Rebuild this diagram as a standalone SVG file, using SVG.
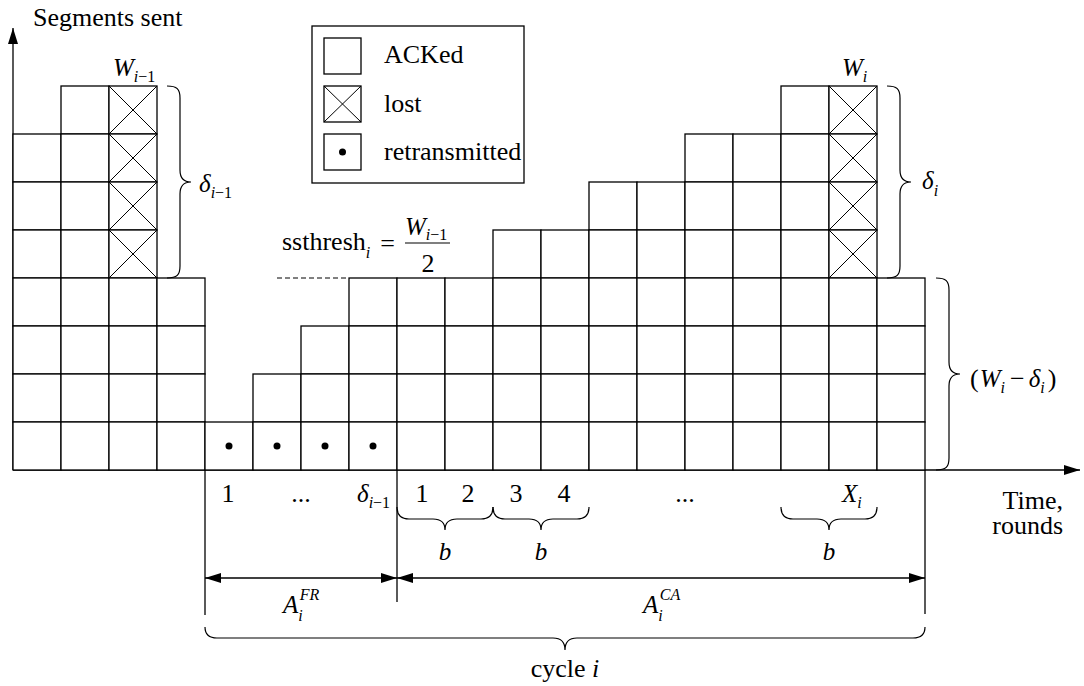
<svg xmlns="http://www.w3.org/2000/svg" width="1084" height="686" viewBox="0 0 1084 686">
<style>
.cell{fill:#fff;stroke:#000;stroke-width:1.3}
.diag{fill:none;stroke:#000;stroke-width:1}
.ln{fill:none;stroke:#000;stroke-width:1.3}
.br{fill:none;stroke:#000;stroke-width:1.2}
</style>
<defs>
<marker id="arr" markerUnits="userSpaceOnUse" markerWidth="16" markerHeight="10" refX="16" refY="5" orient="auto-start-reverse" viewBox="0 0 16 10">
<path d="M0,0L16,5L0,10z" fill="#000"/>
</marker>
<rect id="c" width="48" height="48" class="cell"/>
<g id="x"><rect width="48" height="48" class="cell"/><path d="M0,0L48,48M48,0L0,48" class="diag"/></g>
<g id="d"><rect width="48" height="48" class="cell"/><circle cx="24" cy="24" r="3.5" fill="#000"/></g>
</defs>

<g id="connectors">
<line class="ln" x1="13" y1="470" x2="13" y2="28" marker-end="url(#arr)"/>
<line class="ln" x1="13" y1="470" x2="1080" y2="470" marker-end="url(#arr)"/>
<line class="ln" x1="205" y1="470" x2="205" y2="615"/>
<line class="ln" x1="397" y1="470" x2="397" y2="602"/>
<line class="ln" x1="925" y1="470" x2="925" y2="614"/>
<line class="ln" x1="205" y1="578" x2="397" y2="578" marker-start="url(#arr)" marker-end="url(#arr)"/>
<line class="ln" x1="397" y1="578" x2="925" y2="578" marker-start="url(#arr)" marker-end="url(#arr)"/>
<line x1="277" y1="278" x2="349" y2="278" stroke="#000" stroke-width="1" stroke-dasharray="5,3"/>
</g>

<g id="col0"><use href="#c" x="13" y="134"/><use href="#c" x="13" y="182"/><use href="#c" x="13" y="230"/><use href="#c" x="13" y="278"/><use href="#c" x="13" y="326"/><use href="#c" x="13" y="374"/><use href="#c" x="13" y="422"/></g>
<g id="col1"><use href="#c" x="61" y="86"/><use href="#c" x="61" y="134"/><use href="#c" x="61" y="182"/><use href="#c" x="61" y="230"/><use href="#c" x="61" y="278"/><use href="#c" x="61" y="326"/><use href="#c" x="61" y="374"/><use href="#c" x="61" y="422"/></g>
<g id="col2"><use href="#x" x="109" y="86"/><use href="#x" x="109" y="134"/><use href="#x" x="109" y="182"/><use href="#x" x="109" y="230"/><use href="#c" x="109" y="278"/><use href="#c" x="109" y="326"/><use href="#c" x="109" y="374"/><use href="#c" x="109" y="422"/></g>
<g id="col3"><use href="#c" x="157" y="278"/><use href="#c" x="157" y="326"/><use href="#c" x="157" y="374"/><use href="#c" x="157" y="422"/></g>
<g id="col4"><use href="#d" x="205" y="422"/></g>
<g id="col5"><use href="#c" x="253" y="374"/><use href="#d" x="253" y="422"/></g>
<g id="col6"><use href="#c" x="301" y="326"/><use href="#c" x="301" y="374"/><use href="#d" x="301" y="422"/></g>
<g id="col7"><use href="#c" x="349" y="278"/><use href="#c" x="349" y="326"/><use href="#c" x="349" y="374"/><use href="#d" x="349" y="422"/></g>
<g id="col8"><use href="#c" x="397" y="278"/><use href="#c" x="397" y="326"/><use href="#c" x="397" y="374"/><use href="#c" x="397" y="422"/></g>
<g id="col9"><use href="#c" x="445" y="278"/><use href="#c" x="445" y="326"/><use href="#c" x="445" y="374"/><use href="#c" x="445" y="422"/></g>
<g id="col10"><use href="#c" x="493" y="230"/><use href="#c" x="493" y="278"/><use href="#c" x="493" y="326"/><use href="#c" x="493" y="374"/><use href="#c" x="493" y="422"/></g>
<g id="col11"><use href="#c" x="541" y="230"/><use href="#c" x="541" y="278"/><use href="#c" x="541" y="326"/><use href="#c" x="541" y="374"/><use href="#c" x="541" y="422"/></g>
<g id="col12"><use href="#c" x="589" y="182"/><use href="#c" x="589" y="230"/><use href="#c" x="589" y="278"/><use href="#c" x="589" y="326"/><use href="#c" x="589" y="374"/><use href="#c" x="589" y="422"/></g>
<g id="col13"><use href="#c" x="637" y="182"/><use href="#c" x="637" y="230"/><use href="#c" x="637" y="278"/><use href="#c" x="637" y="326"/><use href="#c" x="637" y="374"/><use href="#c" x="637" y="422"/></g>
<g id="col14"><use href="#c" x="685" y="134"/><use href="#c" x="685" y="182"/><use href="#c" x="685" y="230"/><use href="#c" x="685" y="278"/><use href="#c" x="685" y="326"/><use href="#c" x="685" y="374"/><use href="#c" x="685" y="422"/></g>
<g id="col15"><use href="#c" x="733" y="134"/><use href="#c" x="733" y="182"/><use href="#c" x="733" y="230"/><use href="#c" x="733" y="278"/><use href="#c" x="733" y="326"/><use href="#c" x="733" y="374"/><use href="#c" x="733" y="422"/></g>
<g id="col16"><use href="#c" x="781" y="86"/><use href="#c" x="781" y="134"/><use href="#c" x="781" y="182"/><use href="#c" x="781" y="230"/><use href="#c" x="781" y="278"/><use href="#c" x="781" y="326"/><use href="#c" x="781" y="374"/><use href="#c" x="781" y="422"/></g>
<g id="col17"><use href="#x" x="829" y="86"/><use href="#x" x="829" y="134"/><use href="#x" x="829" y="182"/><use href="#x" x="829" y="230"/><use href="#c" x="829" y="278"/><use href="#c" x="829" y="326"/><use href="#c" x="829" y="374"/><use href="#c" x="829" y="422"/></g>
<g id="col18"><use href="#c" x="877" y="278"/><use href="#c" x="877" y="326"/><use href="#c" x="877" y="374"/><use href="#c" x="877" y="422"/></g>

<g id="legend">
<rect x="312" y="26" width="212" height="157" fill="#fff" stroke="#000" stroke-width="1.3"/>
<rect x="324" y="38" width="37" height="36" class="cell"/>
<rect x="324" y="86" width="37" height="36" class="cell"/>
<path d="M324,86L361,122M361,86L324,122" class="diag"/>
<rect x="324" y="134" width="37" height="36" class="cell"/>
<circle cx="342.5" cy="152" r="3.5" fill="#000"/>
<text font-family="Liberation Serif" font-size="26" x="384" y="63">ACKed</text>
<text font-family="Liberation Serif" font-size="26" x="384" y="112">lost</text>
<text font-family="Liberation Serif" font-size="26" x="384" y="160">retransmitted</text>
</g>

<g id="braces">
<path class="br" d="M167,86 C177,86 180,89 180,98 L180,170 C180,178 184,182 191,182 C184,182 180,186 180,194 L180,266 C180,275 177,278 167,278"/>
<path class="br" d="M887,86 C897,86 900,89 900,98 L900,170 C900,178 904,182 911,182 C904,182 900,186 900,194 L900,266 C900,275 897,278 887,278"/>
<path class="br" d="M936,278 C946,278 949,281 949,290 L949,362 C949,370 953,374 960,374 C953,374 949,378 949,386 L949,458 C949,467 946,470 936,470"/>
<path class="br" d="M397,507 C397,515 401,519 409,519 L433,519 C441,519 445,523 445,530 C445,523 449,519 457,519 L481,519 C489,519 493,515 493,507"/>
<path class="br" d="M493,507 C493,515 497,519 505,519 L529,519 C537,519 541,523 541,530 C541,523 545,519 553,519 L577,519 C585,519 589,515 589,507"/>
<path class="br" d="M781,507 C781,515 785,519 793,519 L817,519 C825,519 829,523 829,530 C829,523 833,519 841,519 L865,519 C873,519 877,515 877,507"/>
<path class="br" d="M205,627 C205,634 209,638 217,638 L553,638 C561,638 565,642 565,650 C565,642 569,638 577,638 L913,638 C921,638 925,634 925,627"/>
</g>

<g id="labels">
<text font-family="Liberation Serif" font-size="26" x="33" y="26">Segments sent</text>
<text font-family="Liberation Serif" font-size="25" font-style="italic" x="113" y="76">W<tspan font-size="16" dy="6">i</tspan><tspan font-size="16" font-style="normal">−1</tspan></text>
<text font-family="Liberation Serif" font-size="25" font-style="italic" x="199" y="192">δ<tspan font-size="16" dy="6">i</tspan><tspan font-size="16" font-style="normal">−1</tspan></text>
<text font-family="Liberation Serif" font-size="25" font-style="italic" x="842" y="76">W<tspan font-size="16" dy="6">i</tspan></text>
<text font-family="Liberation Serif" font-size="25" font-style="italic" x="922" y="189">δ<tspan font-size="16" dy="7">i</tspan></text>
<text font-family="Liberation Serif" font-size="26" x="282" y="250">ssthresh<tspan font-size="16" font-style="italic" dy="8">i</tspan><tspan dx="10" dy="-6">=</tspan></text>
<line x1="405" y1="243" x2="450" y2="243" stroke="#000" stroke-width="1.2"/>
<text font-family="Liberation Serif" font-size="25" font-style="italic" x="405" y="235">W<tspan font-size="16" dy="5">i</tspan><tspan font-size="16" font-style="normal">−1</tspan></text>
<text font-family="Liberation Serif" font-size="26" x="428" y="272" text-anchor="middle">2</text>
<text font-family="Liberation Serif" font-size="26" x="970" y="387">(<tspan font-style="italic" font-size="25" dx="1">W</tspan><tspan font-size="16" font-style="italic" dy="6">i</tspan><tspan dx="5" dy="-6">−</tspan><tspan font-style="italic" font-size="25" dx="4">δ</tspan><tspan font-size="16" font-style="italic" dy="6">i</tspan><tspan dx="3" dy="-6">)</tspan></text>
<text font-family="Liberation Serif" font-size="26" x="228" y="502" text-anchor="middle">1</text>
<text font-family="Liberation Serif" font-size="26" x="301" y="502" text-anchor="middle">...</text>
<text font-family="Liberation Serif" font-size="25" font-style="italic" x="357" y="502">δ<tspan font-size="16" dy="6">i</tspan><tspan font-size="16" font-style="normal">−1</tspan></text>
<text font-family="Liberation Serif" font-size="26" x="422" y="502" text-anchor="middle">1</text>
<text font-family="Liberation Serif" font-size="26" x="468" y="502" text-anchor="middle">2</text>
<text font-family="Liberation Serif" font-size="26" x="516" y="502" text-anchor="middle">3</text>
<text font-family="Liberation Serif" font-size="26" x="564" y="502" text-anchor="middle">4</text>
<text font-family="Liberation Serif" font-size="26" x="685" y="502" text-anchor="middle">...</text>
<text font-family="Liberation Serif" font-size="25" font-style="italic" x="842" y="502">X<tspan font-size="16" dy="6">i</tspan></text>
<text font-family="Liberation Serif" font-size="25" font-style="italic" x="445" y="560" text-anchor="middle">b</text>
<text font-family="Liberation Serif" font-size="25" font-style="italic" x="541" y="560" text-anchor="middle">b</text>
<text font-family="Liberation Serif" font-size="25" font-style="italic" x="829" y="560" text-anchor="middle">b</text>
<text font-family="Liberation Serif" font-size="26" text-anchor="end"><tspan x="1063" y="509">Time,</tspan><tspan x="1063" y="534">rounds</tspan></text>
<text font-family="Liberation Serif" font-size="25" font-style="italic" x="283" y="613">A<tspan font-size="16" dy="8">i</tspan><tspan font-size="16" dx="-3" dy="-21">FR</tspan></text>
<text font-family="Liberation Serif" font-size="25" font-style="italic" x="643" y="613">A<tspan font-size="16" dy="8">i</tspan><tspan font-size="16" dx="-3" dy="-21">CA</tspan></text>
<text font-family="Liberation Serif" font-size="26" x="565" y="677" text-anchor="middle">cycle <tspan font-style="italic">i</tspan></text>
</g>
</svg>
